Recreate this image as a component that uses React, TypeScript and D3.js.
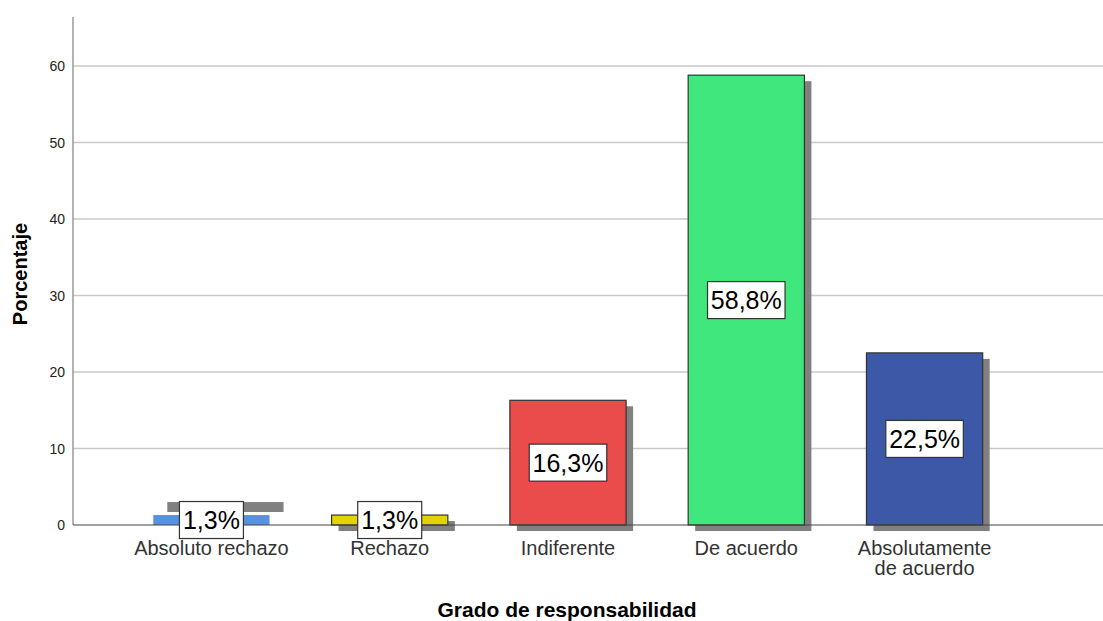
import React from "react";
import * as d3 from "d3";

const categories = ["Absoluto rechazo", "Rechazo", "Indiferente", "De acuerdo", "Absolutamente de acuerdo"];
const values = [1.3, 1.3, 16.3, 58.8, 22.5];
const labels = ["1,3%", "1,3%", "16,3%", "58,8%", "22,5%"];
const yTicks = [0, 10, 20, 30, 40, 50, 60];

const colors = ["#5593e2", "#e3d300", "#ea4b4b", "#40e77c", "#3d58a7"];
// shadow offsets (style) per bar
const shadowDx = [14, 7, 7, 7, 7];
const shadowDy = [-13, 6, 6, 6, 6];
const strokes = ["none", "#333", "#333", "#333", "#333"];

const W = 1103, H = 621;
const left = 73, right = 1103, top = 17, bottom = 525;

export default function App() {
  const y = d3.scaleLinear().domain([0, 60]).range([bottom, 66]);
  const x = d3.scaleBand().domain(categories).range([123, 1013]).paddingInner(0.348).paddingOuter(0.17);
  const font = "'Liberation Sans', Arial, sans-serif";
  return (
    <svg width={W} height={H} style={{ position: "absolute", left: 0, top: 0 }} fontFamily={font}>
      <rect width={W} height={H} fill="#fff" />
      {yTicks.filter(t => t > 0).map(t => (
        <line key={t} x1={left} x2={right} y1={y(t)} y2={y(t)} stroke="#c8c8c8" strokeWidth={1.3} />
      ))}
      {yTicks.map(t => (
        <text key={"t" + t} x={65} y={y(t) + 5} textAnchor="end" fontSize={14} fill="#222">{t}</text>
      ))}
      <line x1={left} x2={left} y1={top} y2={bottom} stroke="#999" strokeWidth={1.5} />
      {categories.map((c, i) => {
        const bx = x(c)!;
        const bw = x.bandwidth();
        const by = y(values[i]);
        const bh = bottom - by;
        return (
          <g key={c}>
            <rect x={bx + shadowDx[i]} y={by + shadowDy[i]} width={bw} height={bh} fill="#808080" />
            <rect x={bx} y={by} width={bw} height={bh} fill={colors[i]} stroke={strokes[i]} strokeWidth={1.2} />
          </g>
        );
      })}
      <line x1={left} x2={right} y1={bottom} y2={bottom} stroke="#444" strokeWidth={1.2} />
      {categories.map((c, i) => {
        const cx = x(c)! + x.bandwidth() / 2;
        const cy = (y(values[i]) + bottom) / 2;
        const bw = labels[i].length * 13.5 + 10;
        return (
          <g key={"l" + c}>
            <rect x={cx - bw / 2} y={cy - 18.5} width={bw} height={37} fill="#fff" stroke="#333" strokeWidth={1.2} />
            <text x={cx} y={cy + 9} textAnchor="middle" fontSize={25} fill="#000">{labels[i]}</text>
          </g>
        );
      })}
      {categories.map((c, i) => {
        const cx = x(c)! + x.bandwidth() / 2;
        const words = c === "Absolutamente de acuerdo" ? ["Absolutamente", "de acuerdo"] : [c];
        return (
          <text key={"c" + c} x={cx} textAnchor="middle" fontSize={20} fill="#333">
            {words.map((w, k) => (
              <tspan key={k} x={cx} y={555 + k * 20}>{w}</tspan>
            ))}
          </text>
        );
      })}
      <text x={567} y={617} textAnchor="middle" fontSize={21} fontWeight="bold" fill="#000">Grado de responsabilidad</text>
      <text transform={`translate(27,274) rotate(-90)`} textAnchor="middle" fontSize={20} fontWeight="bold" fill="#000">Porcentaje</text>
    </svg>
  );
}
